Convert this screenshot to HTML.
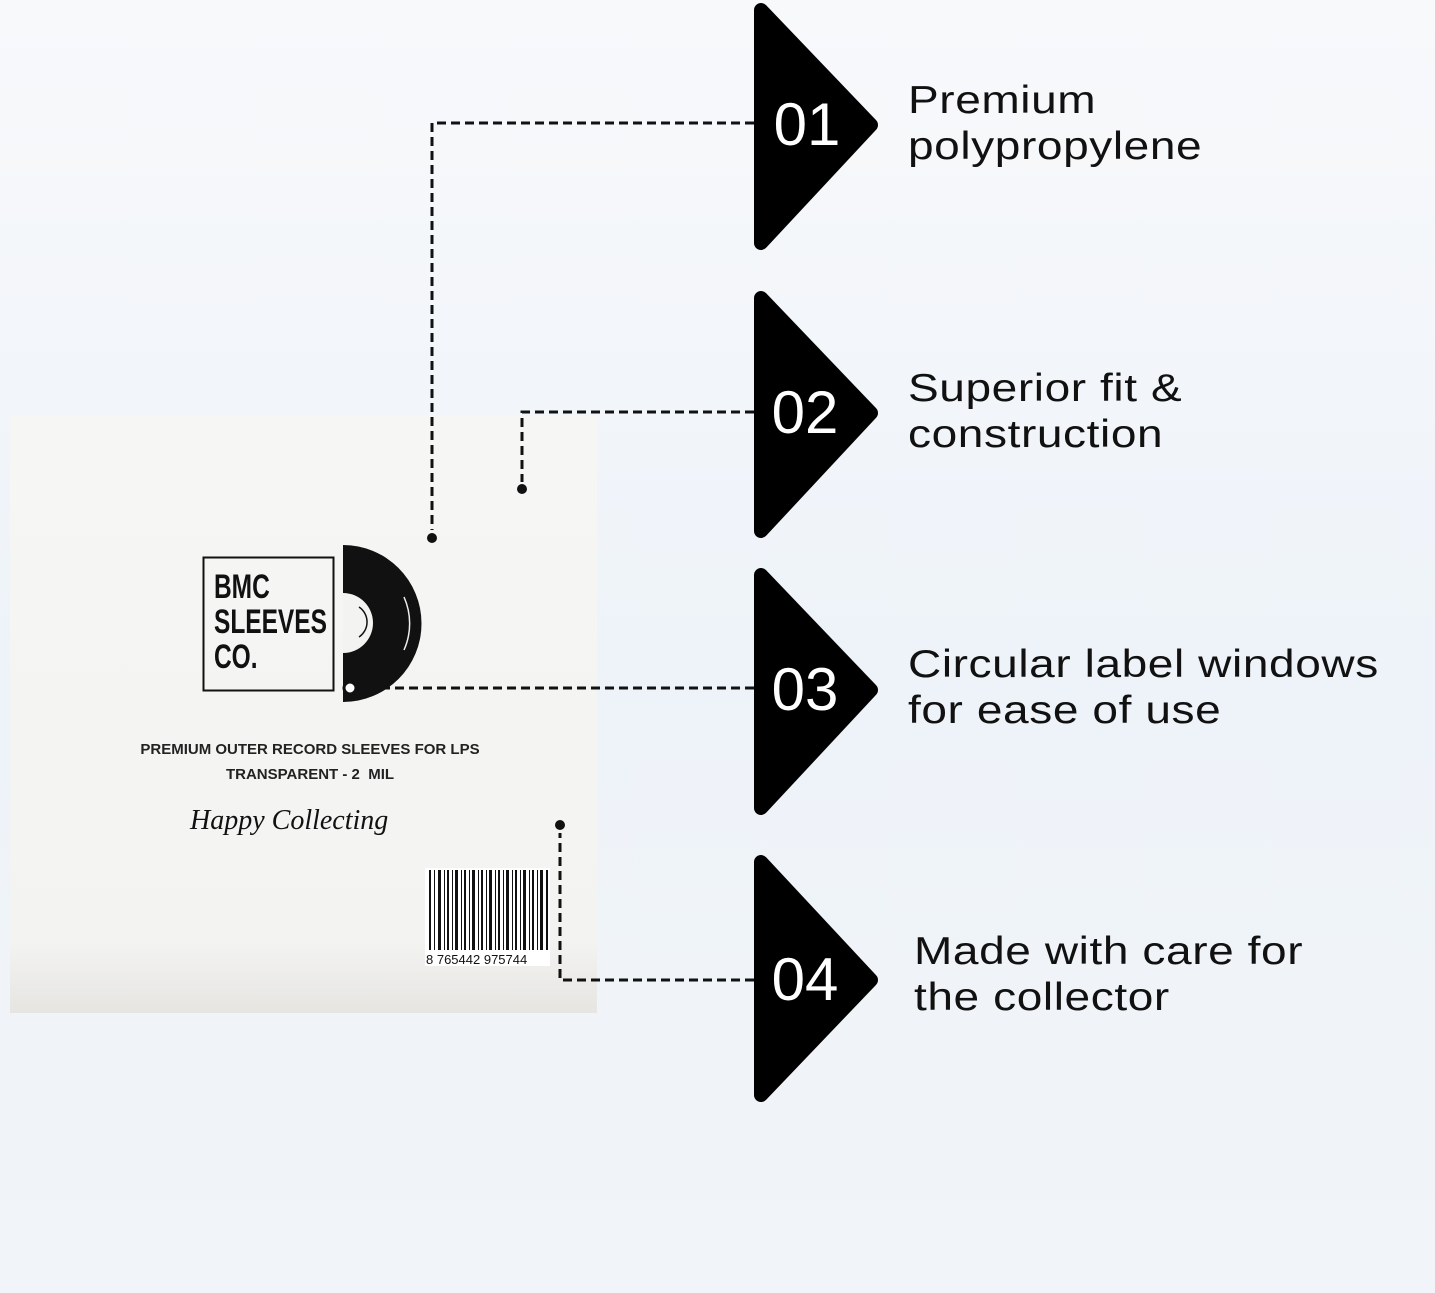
<!DOCTYPE html>
<html><head><meta charset="utf-8"><style>
body{margin:0;width:1435px;height:1293px;overflow:hidden;background:linear-gradient(180deg,#f8f9fb 0%,#eef3f9 50%,#f1f4f8 100%);font-family:"Liberation Sans",sans-serif;position:relative}
.sleeve{position:absolute;left:10px;top:415px;width:587px;height:598px;background:linear-gradient(180deg,#f6f6f5 0%,#f3f3f1 88%,#e6e5e2 100%);}
.t{position:absolute;left:908px;font-size:39px;line-height:46px;color:#111;letter-spacing:0.5px;transform:scaleX(1.18);transform-origin:left top;white-space:nowrap}
.n{position:absolute;color:#fff;font-size:60px;font-weight:normal;width:120px;text-align:center}
</style></head><body>
<div class="sleeve"></div>
<svg width="1435" height="1293" style="position:absolute;left:0;top:0">
<g fill="#000" stroke="#000" stroke-width="14" stroke-linejoin="round">
<polygon points="761,10 761,243 871,125"/>
<polygon points="761,298 761,531 871,413"/>
<polygon points="761,575 761,808 871,690"/>
<polygon points="761,862 761,1095 871,980"/>
</g>
<g fill="none" stroke="#111" stroke-width="3" stroke-dasharray="9,5">
<polyline points="754,123 432,123 432,530"/>
<polyline points="754,412 522,412 522,482"/>
<polyline points="754,688 360,688"/>
<polyline points="754,980 560,980 560,833"/>
</g>
<g fill="#111"><circle cx="432" cy="538" r="5"/><circle cx="522" cy="489" r="5"/><circle cx="560" cy="825" r="5"/></g>
<rect x="203.5" y="557.5" width="130" height="133" fill="none" stroke="#111" stroke-width="2"/>
<path d="M343,545 A78,78 0 0 1 343,702 Z" fill="#111"/>
<path d="M343,593 A30,30 0 0 1 343,653 Z" fill="#f3f3f1"/>
<path d="M359,607 A18,18 0 0 1 359,637" fill="none" stroke="#111" stroke-width="1.5"/>
<path d="M404,597 A65,65 0 0 1 404,650" fill="none" stroke="#eee" stroke-width="1.5"/>
<circle cx="350" cy="688" r="6" fill="#fff" stroke="#111" stroke-width="3"/>
<rect x="425" y="868" width="125" height="98" fill="#fff"/>
<g fill="#111">
<rect x="429" y="870" width="2" height="80"/><rect x="434" y="870" width="1" height="80"/><rect x="438" y="870" width="3" height="80"/><rect x="444" y="870" width="1" height="80"/><rect x="447" y="870" width="2" height="80"/><rect x="452" y="870" width="1" height="80"/><rect x="455" y="870" width="3" height="80"/><rect x="461" y="870" width="1" height="80"/><rect x="464" y="870" width="2" height="80"/><rect x="469" y="870" width="1" height="80"/><rect x="472" y="870" width="3" height="80"/><rect x="478" y="870" width="1" height="80"/><rect x="481" y="870" width="2" height="80"/><rect x="486" y="870" width="1" height="80"/><rect x="489" y="870" width="3" height="80"/><rect x="495" y="870" width="1" height="80"/><rect x="498" y="870" width="2" height="80"/><rect x="503" y="870" width="1" height="80"/><rect x="506" y="870" width="3" height="80"/><rect x="512" y="870" width="1" height="80"/><rect x="515" y="870" width="2" height="80"/><rect x="520" y="870" width="1" height="80"/><rect x="523" y="870" width="3" height="80"/><rect x="529" y="870" width="1" height="80"/><rect x="532" y="870" width="2" height="80"/><rect x="537" y="870" width="1" height="80"/><rect x="540" y="870" width="3" height="80"/><rect x="546" y="870" width="2" height="80"/>
</g>
<text x="426" y="964" font-family="Liberation Sans" font-size="13" fill="#111">8 765442 975744</text>
</svg>
<div style="position:absolute;left:214px;top:570px;font-family:'Liberation Sans Narrow','Liberation Sans',sans-serif;font-weight:bold;font-size:34px;line-height:35px;color:#111;transform:scaleX(0.72);transform-origin:left top">BMC<br>SLEEVES<br>CO.</div>
<div style="position:absolute;left:60px;top:737px;width:500px;text-align:center;font-weight:bold;font-size:15px;line-height:25px;color:#222">PREMIUM OUTER RECORD SLEEVES FOR LPS<br>TRANSPARENT - 2&nbsp; MIL</div>
<div style="position:absolute;left:190px;top:805px;font-family:'Liberation Serif',serif;font-style:italic;font-size:28px;color:#111">Happy Collecting</div>
<div class="n" style="left:747px;top:90px">01</div>
<div class="n" style="left:745px;top:378px">02</div>
<div class="n" style="left:745px;top:655px">03</div>
<div class="n" style="left:745px;top:945px">04</div>
<div class="t" style="top:78px">Premium<br>polypropylene</div>
<div class="t" style="top:366px">Superior fit &amp;<br>construction</div>
<div class="t" style="top:642px">Circular label windows<br>for ease of use</div>
<div class="t" style="top:929px;left:914px">Made with care for<br>the collector</div>
</body></html>
